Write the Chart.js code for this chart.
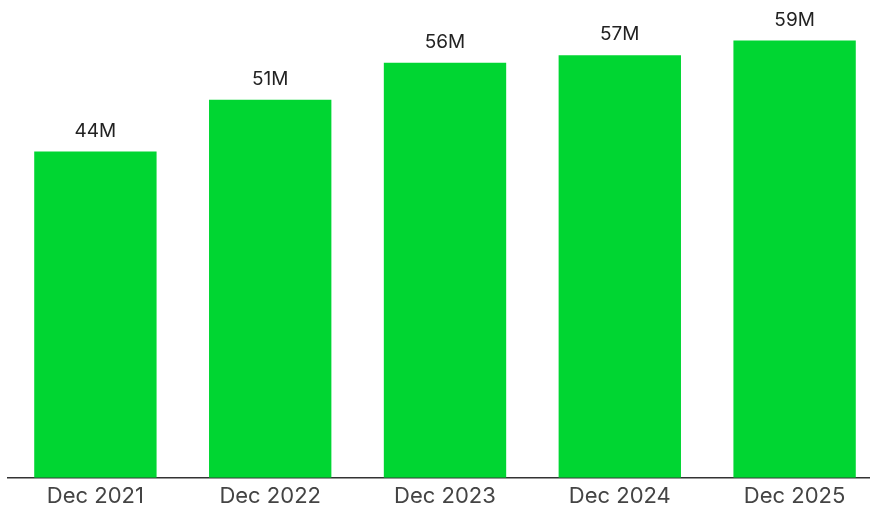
<!DOCTYPE html>
<html>
<head>
<meta charset="utf-8">
<script src="https://cdn.jsdelivr.net/npm/chart.js@4.4.1/dist/chart.umd.min.js"></script>
<style>
  html, body { margin: 0; padding: 0; background: #fff; overflow: hidden; }
  #wrap { position: relative; width: 882px; height: 514px; }
</style>
</head>
<body>
<div id="wrap"><canvas id="chart"></canvas></div>
<script>
// Year-end figures, in millions
const categories = ['Dec 2021', 'Dec 2022', 'Dec 2023', 'Dec 2024', 'Dec 2025'];
const values = [44, 51, 56, 57, 59];
const valueLabels = ['44M', '51M', '56M', '57M', '59M'];

const FONT = 'Inter, "Noto Sans", sans-serif';

// Writes each bar's label just above its top edge
const barLabels = {
  id: 'barLabels',
  afterDatasetsDraw(chart) {
    const ctx = chart.ctx;
    const meta = chart.getDatasetMeta(0);
    ctx.save();
    ctx.font = '400 19px ' + FONT;
    ctx.fillStyle = '#222222';
    ctx.textAlign = 'center';
    ctx.textBaseline = 'bottom';
    meta.data.forEach((bar, i) => {
      ctx.fillText(valueLabels[i], bar.x, bar.y - 11);
    });
    ctx.restore();
  }
};

new Chart(document.getElementById('chart'), {
  type: 'bar',
  data: {
    labels: categories,
    datasets: [{
      data: values,
      backgroundColor: '#00D632',
      borderWidth: 0,
      barPercentage: 0.7,
      categoryPercentage: 1.0
    }]
  },
  options: {
    responsive: true,
    maintainAspectRatio: false,
    animation: false,
    layout: { padding: { top: 33, left: 8, right: 0, bottom: 0 } },
    plugins: {
      legend: { display: false },
      tooltip: { enabled: false }
    },
    scales: {
      x: {
        grid: { display: false, drawTicks: false },
        border: { display: true, color: '#333333', width: 1.5 },
        ticks: {
          color: '#444444',
          font: { family: FONT, size: 22, weight: '400', lineHeight: 1.1 },
          padding: 6
        }
      },
      y: {
        display: false,
        min: 0,
        max: 60
      }
    }
  },
  plugins: [barLabels]
});
</script>
</body>
</html>
